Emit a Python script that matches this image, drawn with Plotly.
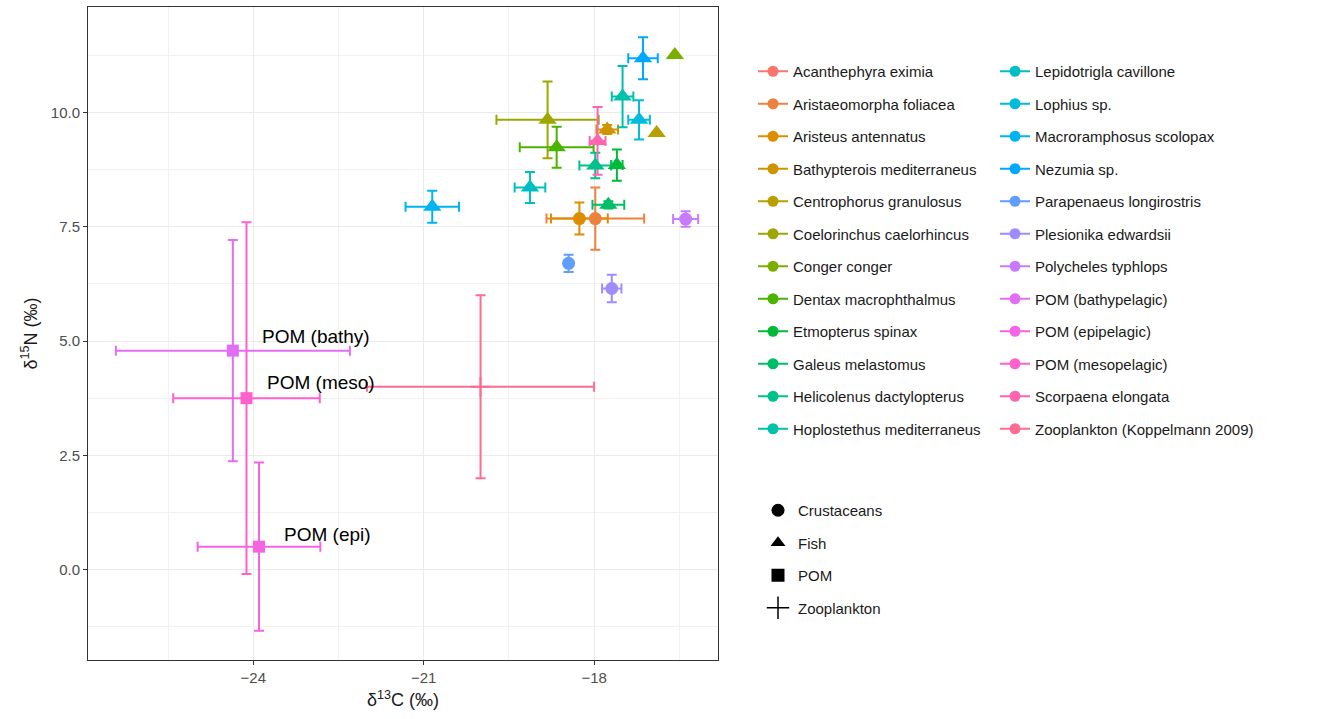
import math
import plotly.graph_objects as go

# ---------------- data ----------------
species = [
    "Acanthephyra eximia", "Aristaeomorpha foliacea", "Aristeus antennatus",
    "Bathypterois mediterraneus", "Centrophorus granulosus", "Coelorinchus caelorhincus",
    "Conger conger", "Dentax macrophthalmus", "Etmopterus spinax", "Galeus melastomus",
    "Helicolenus dactylopterus", "Hoplostethus mediterraneus", "Lepidotrigla cavillone",
    "Lophius sp.", "Macroramphosus scolopax", "Nezumia sp.", "Parapenaeus longirostris",
    "Plesionika edwardsii", "Polycheles typhlops", "POM (bathypelagic)", "POM (epipelagic)",
    "POM (mesopelagic)", "Scorpaena elongata", "Zooplankton (Koppelmann 2009)",
]
group = [
    "Crustaceans", "Crustaceans", "Crustaceans", "Fish", "Fish", "Fish", "Fish", "Fish",
    "Fish", "Fish", "Fish", "Fish", "Fish", "Fish", "Fish", "Fish", "Crustaceans",
    "Crustaceans", "Crustaceans", "POM", "POM", "POM", "Fish", "Zooplankton",
]
d13C = [None, -17.98, -18.26, -17.77, -16.90, -18.82, -16.58, -18.66, -17.60, -17.75,
        -17.98, -17.50, -19.13, -17.21, -20.85, -17.14, -18.45, -17.69, -16.39,
        -24.36, -23.90, -24.12, -17.94, -20.0]
d15N = [None, 7.68, 7.68, 9.63, 9.55, 9.84, 11.26, 9.24, 8.85, 7.98,
        8.84, 10.35, 8.36, 9.84, 7.94, 11.19, 6.70, 6.15, 7.67,
        4.79, 0.50, 3.75, 9.38, 4.0]
sd13C = [None, 0.86, 0.50, 0.19, None, 0.90, None, 0.65, 0.10, 0.28,
         0.28, 0.19, 0.27, 0.19, 0.47, 0.26, None, 0.17, 0.22,
         2.06, 1.08, 1.29, 0.14, 2.0]
sd15N = [None, 0.68, 0.35, 0.10, None, 0.84, None, 0.45, 0.34, 0.08,
         0.28, 0.67, 0.34, 0.43, 0.35, 0.46, 0.19, 0.30, 0.17,
         2.42, 1.84, 3.85, 0.74, 2.0]

group_levels = ["Crustaceans", "Fish", "POM", "Zooplankton"]

label_text = ["POM (bathy)", "POM (meso)", "POM (epi)"]
label_x = [-23.88, -23.79, -23.50]
label_y = [5.09, 4.09, 0.77]

# ---------------- styling helpers ----------------
def hue_hex(h, c=100.0, l=65.0):
    Xn, Yn, Zn = 95.047, 100.0, 108.883
    hr = math.radians(h)
    u, v = c * math.cos(hr), c * math.sin(hr)
    Y = Yn * ((l + 16) / 116) ** 3
    den = Xn + 15 * Yn + 3 * Zn
    un, vn = 4 * Xn / den, 9 * Yn / den
    up, vp = u / (13 * l) + un, v / (13 * l) + vn
    X = 9.0 * Y * up / (4 * vp)
    Z = -X / 3 - 5 * Y + 3 * Y / vp
    X, Y, Z = X / 100, Y / 100, Z / 100
    r = 3.240479 * X - 1.537150 * Y - 0.498535 * Z
    g = -0.969256 * X + 1.875992 * Y + 0.041556 * Z
    b = 0.055648 * X - 0.204043 * Y + 1.057311 * Z

    def gam(t):
        t = 12.92 * t if t <= 0.0031308 else 1.055 * t ** (1 / 2.4) - 0.055
        return int(round(min(max(t, 0), 1) * 255))

    return "#%02X%02X%02X" % (gam(r), gam(g), gam(b))


n = len(species)
colors = [hue_hex(15 + 360.0 * i / n) for i in range(n)]

sym = {"Crustaceans": "circle", "Fish": "triangle-up", "POM": "square", "Zooplankton": "cross-thin"}
msize = {"Crustaceans": 13, "Fish": 16, "POM": 12, "Zooplankton": 14}

fig = go.Figure()

# error bars layer
for i in range(n):
    if d13C[i] is None:
        continue
    ex = dict(type="data", array=[sd13C[i]], visible=sd13C[i] is not None,
              color=colors[i], thickness=2, width=5)
    ey = dict(type="data", array=[sd15N[i]], visible=sd15N[i] is not None,
              color=colors[i], thickness=2, width=5)
    fig.add_trace(go.Scatter(x=[d13C[i]], y=[d15N[i]], mode="markers",
                             marker=dict(size=1, opacity=0), error_x=ex, error_y=ey,
                             showlegend=False, hoverinfo="skip"))

# points layer
for i in range(n):
    if d13C[i] is None:
        continue
    g = group[i]
    mk = dict(symbol=sym[g], size=msize[g], color=colors[i])
    if g == "Zooplankton":
        mk["line"] = dict(color=colors[i], width=2)
    fig.add_trace(go.Scatter(x=[d13C[i]], y=[d15N[i]], mode="markers", marker=mk,
                             showlegend=False, name=species[i]))

# colour legend (two columns)
for i in range(n):
    fig.add_trace(go.Scatter(x=[None], y=[None], mode="lines+markers",
                             marker=dict(symbol="circle", size=11, color=colors[i]),
                             line=dict(color=colors[i], width=2),
                             name=species[i], legendgroup="g%d" % i,
                             legend="legend" if i < 12 else "legend2"))

# shape legend
for j, g in enumerate(group_levels):
    mk = dict(symbol=sym[g], size=13, color="black")
    if g == "Zooplankton":
        mk["line"] = dict(color="black", width=1.5)
        mk["size"] = 16
    fig.add_trace(go.Scatter(x=[None], y=[None], mode="markers", marker=mk, name=g,
                             legendgroup="s%d" % j, legend="legend3"))

# POM labels
for t, lx, ly in zip(label_text, label_x, label_y):
    fig.add_annotation(x=lx, y=ly, text=t, showarrow=False, xanchor="left", yanchor="middle",
                       font=dict(size=19, color="black"))

FONT = "Liberation Sans, Arial, sans-serif"
W, H = 1333, 719
leg_common = dict(font=dict(size=15, color="#1A1A1A"), bgcolor="rgba(0,0,0,0)",
                  xref="container", yref="container", xanchor="left", yanchor="top",
                  tracegroupgap=10, itemclick=False, itemdoubleclick=False, maxheight=700)

fig.update_layout(
    width=W, height=H,
    margin=dict(l=88, r=W - 718, t=7, b=H - 660),
    paper_bgcolor="white", plot_bgcolor="white",
    font=dict(family=FONT, size=15, color="#1A1A1A"),
    legend=dict(x=753 / W, y=1 - 55 / H, **leg_common),
    legend2=dict(x=995 / W, y=1 - 55 / H, **leg_common),
    legend3=dict(x=758 / W, y=1 - 494 / H, **leg_common),
    xaxis=dict(range=[-26.91, -15.82], tick0=-24, dtick=3, showgrid=True,
               gridcolor="#EBEBEB", gridwidth=1.4, zeroline=False,
               showline=True, mirror=True, linecolor="#333333", linewidth=1,
               ticks="outside", ticklen=4, tickcolor="#333333",
               tickfont=dict(size=15, color="#4D4D4D"),
               minor=dict(dtick=1.5, tick0=-24, showgrid=True, gridcolor="#F2F2F2", gridwidth=0.8),
               title=dict(text="δ<sup>13</sup>C (‰)", font=dict(size=18, color="#1A1A1A"), standoff=8)),
    yaxis=dict(range=[-1.98, 12.31], tick0=0, dtick=2.5, tickformat=".1f", showgrid=True,
               gridcolor="#EBEBEB", gridwidth=1.4, zeroline=False,
               showline=True, mirror=True, linecolor="#333333", linewidth=1,
               ticks="outside", ticklen=4, tickcolor="#333333",
               tickfont=dict(size=15, color="#4D4D4D"),
               minor=dict(dtick=1.25, tick0=0, showgrid=True, gridcolor="#F2F2F2", gridwidth=0.8),
               title=dict(text="δ<sup>15</sup>N (‰)", font=dict(size=18, color="#1A1A1A"), standoff=8)),
)

fig.write_html("out.html")
